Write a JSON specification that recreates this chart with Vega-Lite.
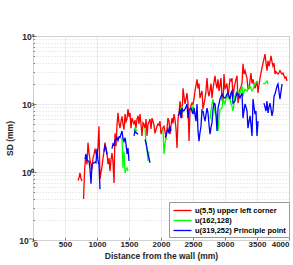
{
  "$schema": "https://vega.github.io/schema/vega-lite/v6.json",
  "width": 256,
  "height": 204,
  "autosize": {"type": "none"},
  "padding": {"left": 33, "top": 36, "right": 4, "bottom": 25},
  "background": "white",
  "config": {
    "font": "Liberation Sans",
    "view": {"stroke": "#808080", "strokeWidth": 1},
    "axis": {
      "labelFont": "Liberation Sans",
      "labelFontWeight": "bold",
      "labelFontSize": 8,
      "labelColor": "#262626",
      "titleFont": "Liberation Sans",
      "titleFontWeight": "bold",
      "titleFontSize": 8.5,
      "titleColor": "#262626",
      "domain": false,
      "tickColor": "#808080",
      "tickSize": -2.5,
      "gridColor": "#e6e6e6",
      "gridWidth": 0.8
    }
  },
  "data": {
    "values": [
      {"d":703,"sd":0.75,"s":"a"},{"d":719,"sd":0.82,"s":"a"},{"d":734,"sd":0.97,"s":"a"},{"d":750,"sd":0.8,"s":"a"},{"d":766,"sd":0.74,"s":"a"},{"d":778,"sd":null,"s":"a"},
      {"d":790,"sd":0.4,"s":"a"},{"d":805,"sd":1.0,"s":"a"},{"d":820,"sd":1.6,"s":"a"},{"d":844,"sd":1.3,"s":"a"},{"d":859,"sd":2.7,"s":"a"},{"d":875,"sd":1.9,"s":"a"},{"d":891,"sd":1.5,"s":"a"},{"d":906,"sd":1.3,"s":"a"},{"d":922,"sd":1.1,"s":"a"},{"d":938,"sd":1.6,"s":"a"},{"d":953,"sd":1.8,"s":"a"},{"d":969,"sd":2.2,"s":"a"},{"d":984,"sd":1.9,"s":"a"},{"d":1000,"sd":1.6,"s":"a"},{"d":1016,"sd":2.4,"s":"a"},{"d":1031,"sd":4.7,"s":"a"},{"d":1047,"sd":0.79,"s":"a"},{"d":1063,"sd":1.0,"s":"a"},{"d":1078,"sd":1.2,"s":"a"},{"d":1094,"sd":1.6,"s":"a"},{"d":1109,"sd":2.0,"s":"a"},{"d":1125,"sd":2.7,"s":"a"},{"d":1141,"sd":2.2,"s":"a"},{"d":1156,"sd":1.9,"s":"a"},{"d":1172,"sd":1.3,"s":"a"},{"d":1188,"sd":1.6,"s":"a"},{"d":1203,"sd":1.03,"s":"a"},{"d":1219,"sd":1.5,"s":"a"},{"d":1234,"sd":1.9,"s":"a"},{"d":1250,"sd":1.4,"s":"a"},{"d":1266,"sd":0.69,"s":"a"},{"d":1281,"sd":3.7,"s":"a"},{"d":1297,"sd":2.4,"s":"a"},{"d":1313,"sd":5.0,"s":"a"},{"d":1328,"sd":7.4,"s":"a"},{"d":1344,"sd":5.2,"s":"a"},{"d":1359,"sd":4.4,"s":"a"},{"d":1375,"sd":5.5,"s":"a"},{"d":1391,"sd":6.6,"s":"a"},{"d":1406,"sd":5.0,"s":"a"},{"d":1422,"sd":4.2,"s":"a"},{"d":1438,"sd":7.1,"s":"a"},{"d":1453,"sd":5.5,"s":"a"},{"d":1469,"sd":6.0,"s":"a"},{"d":1484,"sd":8.4,"s":"a"},{"d":1500,"sd":6.5,"s":"a"},{"d":1516,"sd":7.4,"s":"a"},{"d":1531,"sd":4.4,"s":"a"},{"d":1547,"sd":6.2,"s":"a"},{"d":1563,"sd":5.5,"s":"a"},{"d":1578,"sd":5.1,"s":"a"},{"d":1594,"sd":5.8,"s":"a"},{"d":1609,"sd":4.4,"s":"a"},{"d":1625,"sd":6.0,"s":"a"},{"d":1641,"sd":6.7,"s":"a"},{"d":1656,"sd":5.1,"s":"a"},{"d":1672,"sd":7.1,"s":"a"},{"d":1688,"sd":5.0,"s":"a"},{"d":1703,"sd":3.4,"s":"a"},{"d":1719,"sd":5.3,"s":"a"},{"d":1734,"sd":5.0,"s":"a"},{"d":1750,"sd":4.4,"s":"a"},{"d":1766,"sd":6.0,"s":"a"},{"d":1781,"sd":3.4,"s":"a"},{"d":1797,"sd":5.1,"s":"a"},{"d":1813,"sd":5.5,"s":"a"},{"d":1828,"sd":6.0,"s":"a"},{"d":1844,"sd":4.3,"s":"a"},{"d":1859,"sd":6.2,"s":"a"},{"d":1875,"sd":5.6,"s":"a"},{"d":1891,"sd":4.8,"s":"a"},{"d":1906,"sd":3.7,"s":"a"},{"d":1922,"sd":4.2,"s":"a"},{"d":1938,"sd":4.7,"s":"a"},{"d":1953,"sd":5.1,"s":"a"},{"d":1969,"sd":4.9,"s":"a"},{"d":1984,"sd":5.6,"s":"a"},{"d":2000,"sd":3.6,"s":"a"},{"d":2016,"sd":4.0,"s":"a"},{"d":2031,"sd":4.5,"s":"a"},{"d":2047,"sd":4.7,"s":"a"},{"d":2063,"sd":3.9,"s":"a"},{"d":2078,"sd":3.2,"s":"a"},{"d":2094,"sd":4.4,"s":"a"},{"d":2109,"sd":6.2,"s":"a"},{"d":2125,"sd":5.6,"s":"a"},{"d":2141,"sd":3.6,"s":"a"},{"d":2156,"sd":4.8,"s":"a"},{"d":2172,"sd":6.2,"s":"a"},{"d":2188,"sd":5.2,"s":"a"},{"d":2203,"sd":7.1,"s":"a"},{"d":2219,"sd":5.8,"s":"a"},{"d":2234,"sd":4.4,"s":"a"},{"d":2250,"sd":2.25,"s":"a"},{"d":2266,"sd":6.0,"s":"a"},{"d":2281,"sd":7.1,"s":"a"},{"d":2297,"sd":11,"s":"a"},{"d":2313,"sd":8.4,"s":"a"},{"d":2328,"sd":6.2,"s":"a"},{"d":2344,"sd":17,"s":"a"},{"d":2359,"sd":13,"s":"a"},{"d":2375,"sd":10,"s":"a"},{"d":2391,"sd":12,"s":"a"},{"d":2406,"sd":14.5,"s":"a"},{"d":2422,"sd":10.3,"s":"a"},{"d":2438,"sd":2.85,"s":"a"},{"d":2453,"sd":7.9,"s":"a"},{"d":2469,"sd":9.5,"s":"a"},{"d":2484,"sd":10.3,"s":"a"},{"d":2500,"sd":10,"s":"a"},{"d":2516,"sd":12,"s":"a"},{"d":2531,"sd":15.5,"s":"a"},{"d":2547,"sd":19,"s":"a"},{"d":2563,"sd":23,"s":"a"},{"d":2578,"sd":17,"s":"a"},{"d":2594,"sd":20,"s":"a"},{"d":2609,"sd":12.2,"s":"a"},{"d":2625,"sd":14,"s":"a"},{"d":2641,"sd":15.5,"s":"a"},{"d":2656,"sd":8.4,"s":"a"},{"d":2672,"sd":10,"s":"a"},{"d":2688,"sd":12.2,"s":"a"},{"d":2703,"sd":15.5,"s":"a"},{"d":2719,"sd":24,"s":"a"},{"d":2734,"sd":15.5,"s":"a"},{"d":2750,"sd":13,"s":"a"},{"d":2766,"sd":16,"s":"a"},{"d":2781,"sd":20,"s":"a"},{"d":2797,"sd":12.2,"s":"a"},{"d":2813,"sd":17,"s":"a"},{"d":2828,"sd":21,"s":"a"},{"d":2844,"sd":26,"s":"a"},{"d":2859,"sd":20,"s":"a"},{"d":2875,"sd":17,"s":"a"},{"d":2891,"sd":23,"s":"a"},{"d":2906,"sd":15.5,"s":"a"},{"d":2922,"sd":19,"s":"a"},{"d":2938,"sd":24,"s":"a"},{"d":2953,"sd":11.8,"s":"a"},{"d":2969,"sd":10.3,"s":"a"},{"d":2984,"sd":27.6,"s":"a"},{"d":3000,"sd":17,"s":"a"},{"d":3016,"sd":18,"s":"a"},{"d":3031,"sd":20,"s":"a"},{"d":3047,"sd":12.2,"s":"a"},{"d":3063,"sd":17,"s":"a"},{"d":3078,"sd":23,"s":"a"},{"d":3094,"sd":22,"s":"a"},{"d":3109,"sd":24,"s":"a"},{"d":3125,"sd":12.2,"s":"a"},{"d":3141,"sd":17,"s":"a"},{"d":3156,"sd":20,"s":"a"},{"d":3172,"sd":23,"s":"a"},{"d":3188,"sd":26,"s":"a"},{"d":3203,"sd":10.3,"s":"a"},{"d":3219,"sd":13,"s":"a"},{"d":3234,"sd":16.5,"s":"a"},{"d":3250,"sd":18,"s":"a"},{"d":3266,"sd":20,"s":"a"},{"d":3281,"sd":39,"s":"a"},{"d":3297,"sd":27.6,"s":"a"},{"d":3313,"sd":31,"s":"a"},{"d":3328,"sd":27,"s":"a"},{"d":3344,"sd":24,"s":"a"},{"d":3359,"sd":16.5,"s":"a"},{"d":3375,"sd":17,"s":"a"},{"d":3391,"sd":22,"s":"a"},{"d":3406,"sd":28.5,"s":"a"},{"d":3422,"sd":20,"s":"a"},{"d":3438,"sd":23,"s":"a"},{"d":3453,"sd":20,"s":"a"},{"d":3469,"sd":17,"s":"a"},{"d":3484,"sd":19,"s":"a"},{"d":3500,"sd":21.8,"s":"a"},{"d":3516,"sd":14.5,"s":"a"},{"d":3531,"sd":19,"s":"a"},{"d":3547,"sd":24,"s":"a"},{"d":3563,"sd":29,"s":"a"},{"d":3578,"sd":34,"s":"a"},{"d":3594,"sd":40,"s":"a"},{"d":3609,"sd":46,"s":"a"},{"d":3625,"sd":54,"s":"a"},{"d":3641,"sd":40,"s":"a"},{"d":3656,"sd":31,"s":"a"},{"d":3672,"sd":43,"s":"a"},{"d":3688,"sd":36,"s":"a"},{"d":3703,"sd":42,"s":"a"},{"d":3719,"sd":51,"s":"a"},{"d":3734,"sd":42,"s":"a"},{"d":3750,"sd":36,"s":"a"},{"d":3766,"sd":40,"s":"a"},{"d":3781,"sd":27.6,"s":"a"},{"d":3797,"sd":30,"s":"a"},{"d":3813,"sd":28.5,"s":"a"},{"d":3828,"sd":27.6,"s":"a"},{"d":3844,"sd":29,"s":"a"},{"d":3859,"sd":31,"s":"a"},{"d":3875,"sd":29,"s":"a"},{"d":3891,"sd":27.6,"s":"a"},{"d":3906,"sd":28.5,"s":"a"},{"d":3922,"sd":26,"s":"a"},{"d":3938,"sd":24,"s":"a"},{"d":3953,"sd":25,"s":"a"},{"d":3969,"sd":21.8,"s":"a"},

      {"d":1391,"sd":3.2,"s":"b"},{"d":1406,"sd":1.15,"s":"b"},{"d":1422,"sd":2.0,"s":"b"},{"d":1438,"sd":0.97,"s":"b"},{"d":1453,"sd":1.1,"s":"b"},{"d":1469,"sd":1.15,"s":"b"},{"d":1484,"sd":1.03,"s":"b"},{"d":1540,"sd":null,"s":"b"},{"d":1578,"sd":4.0,"s":"b"},{"d":1594,"sd":4.4,"s":"b"},{"d":1609,"sd":4.2,"s":"b"},{"d":1625,"sd":4.0,"s":"b"},{"d":1700,"sd":null,"s":"b"},{"d":1750,"sd":4.4,"s":"b"},{"d":1766,"sd":2.6,"s":"b"},{"d":1781,"sd":2.2,"s":"b"},{"d":1797,"sd":1.45,"s":"b"},{"d":1813,"sd":2.0,"s":"b"},{"d":1900,"sd":null,"s":"b"},{"d":2031,"sd":4.3,"s":"b"},{"d":2047,"sd":1.84,"s":"b"},{"d":2063,"sd":2.67,"s":"b"},{"d":2078,"sd":3.2,"s":"b"},{"d":2094,"sd":3.0,"s":"b"},{"d":2200,"sd":null,"s":"b"},{"d":2297,"sd":8.4,"s":"b"},{"d":2313,"sd":8.4,"s":"b"},{"d":2328,"sd":9.3,"s":"b"},{"d":2344,"sd":7.4,"s":"b"},{"d":2420,"sd":null,"s":"b"},{"d":2484,"sd":7.4,"s":"b"},{"d":2500,"sd":9.3,"s":"b"},{"d":2516,"sd":8.5,"s":"b"},{"d":2531,"sd":7.1,"s":"b"},{"d":2600,"sd":null,"s":"b"},{"d":2766,"sd":6.0,"s":"b"},{"d":2781,"sd":8,"s":"b"},{"d":2797,"sd":10,"s":"b"},{"d":2813,"sd":11.8,"s":"b"},{"d":2828,"sd":9,"s":"b"},{"d":2844,"sd":7.4,"s":"b"},{"d":2859,"sd":7,"s":"b"},{"d":2875,"sd":6.7,"s":"b"},{"d":2891,"sd":4.0,"s":"b"},{"d":2906,"sd":6,"s":"b"},{"d":2922,"sd":8.4,"s":"b"},{"d":2938,"sd":8.5,"s":"b"},{"d":2953,"sd":8.7,"s":"b"},{"d":2969,"sd":11.8,"s":"b"},{"d":2984,"sd":11,"s":"b"},{"d":3000,"sd":10,"s":"b"},{"d":3016,"sd":12,"s":"b"},{"d":3031,"sd":14,"s":"b"},{"d":3047,"sd":12.5,"s":"b"},{"d":3063,"sd":12,"s":"b"},{"d":3078,"sd":11.8,"s":"b"},{"d":3094,"sd":10,"s":"b"},{"d":3109,"sd":9.3,"s":"b"},{"d":3125,"sd":7.9,"s":"b"},{"d":3141,"sd":10,"s":"b"},{"d":3156,"sd":13,"s":"b"},{"d":3172,"sd":14.5,"s":"b"},{"d":3188,"sd":15.5,"s":"b"},{"d":3203,"sd":15.5,"s":"b"},{"d":3219,"sd":15,"s":"b"},{"d":3234,"sd":14.5,"s":"b"},{"d":3250,"sd":16,"s":"b"},{"d":3266,"sd":18.4,"s":"b"},{"d":3281,"sd":13,"s":"b"},{"d":3297,"sd":15,"s":"b"},{"d":3313,"sd":16.5,"s":"b"},{"d":3328,"sd":16,"s":"b"},{"d":3344,"sd":15.5,"s":"b"},{"d":3359,"sd":17,"s":"b"},{"d":3375,"sd":18,"s":"b"},{"d":3391,"sd":18.4,"s":"b"},{"d":3406,"sd":17,"s":"b"},{"d":3422,"sd":15.5,"s":"b"},{"d":3438,"sd":16.5,"s":"b"},{"d":3453,"sd":18,"s":"b"},{"d":3469,"sd":19.7,"s":"b"},{"d":3484,"sd":20.5,"s":"b"},{"d":3500,"sd":21.8,"s":"b"},{"d":3550,"sd":null,"s":"b"},{"d":3594,"sd":20,"s":"b"},{"d":3609,"sd":20,"s":"b"},{"d":3625,"sd":20,"s":"b"},{"d":3641,"sd":21,"s":"b"},{"d":3656,"sd":21.8,"s":"b"},{"d":3672,"sd":19.7,"s":"b"},

      {"d":813,"sd":1.55,"s":"c"},{"d":828,"sd":1.84,"s":"c"},{"d":844,"sd":1.5,"s":"c"},{"d":859,"sd":1.45,"s":"c"},{"d":875,"sd":1.45,"s":"c"},{"d":891,"sd":1.1,"s":"c"},{"d":906,"sd":0.67,"s":"c"},{"d":922,"sd":1.3,"s":"c"},{"d":938,"sd":1.35,"s":"c"},{"d":953,"sd":1.36,"s":"c"},{"d":969,"sd":1.4,"s":"c"},{"d":984,"sd":1.36,"s":"c"},{"d":1000,"sd":2.2,"s":"c"},{"d":1016,"sd":1.45,"s":"c"},{"d":1031,"sd":1.3,"s":"c"},{"d":1047,"sd":0.56,"s":"c"},{"d":1080,"sd":null,"s":"c"},{"d":1109,"sd":2.0,"s":"c"},{"d":1125,"sd":2.4,"s":"c"},{"d":1141,"sd":2.2,"s":"c"},{"d":1156,"sd":1.8,"s":"c"},{"d":1190,"sd":null,"s":"c"},{"d":1234,"sd":2.2,"s":"c"},{"d":1250,"sd":2.6,"s":"c"},{"d":1266,"sd":2.5,"s":"c"},{"d":1281,"sd":2.9,"s":"c"},{"d":1297,"sd":3.0,"s":"c"},{"d":1313,"sd":3.2,"s":"c"},{"d":1328,"sd":2.9,"s":"c"},{"d":1344,"sd":3.3,"s":"c"},{"d":1359,"sd":3.2,"s":"c"},{"d":1375,"sd":3.6,"s":"c"},{"d":1391,"sd":4.0,"s":"c"},{"d":1406,"sd":3.1,"s":"c"},{"d":1422,"sd":2.8,"s":"c"},{"d":1438,"sd":3.2,"s":"c"},{"d":1453,"sd":2.6,"s":"c"},{"d":1469,"sd":1.84,"s":"c"},{"d":1484,"sd":2.25,"s":"c"},{"d":1500,"sd":1.45,"s":"c"},{"d":1540,"sd":null,"s":"c"},{"d":1578,"sd":3.4,"s":"c"},{"d":1594,"sd":4.0,"s":"c"},{"d":1609,"sd":3.8,"s":"c"},{"d":1625,"sd":3.7,"s":"c"},{"d":1641,"sd":3.6,"s":"c"},{"d":1700,"sd":null,"s":"c"},{"d":1750,"sd":3.0,"s":"c"},{"d":1766,"sd":2.67,"s":"c"},{"d":1781,"sd":2.2,"s":"c"},{"d":1797,"sd":1.84,"s":"c"},{"d":1813,"sd":1.6,"s":"c"},{"d":1828,"sd":1.36,"s":"c"},{"d":1950,"sd":null,"s":"c"},{"d":2063,"sd":3.2,"s":"c"},{"d":2078,"sd":3.4,"s":"c"},{"d":2094,"sd":3.9,"s":"c"},{"d":2109,"sd":4.3,"s":"c"},{"d":2125,"sd":3.7,"s":"c"},{"d":2141,"sd":4.7,"s":"c"},{"d":2156,"sd":4.0,"s":"c"},{"d":2200,"sd":null,"s":"c"},{"d":2266,"sd":6.7,"s":"c"},{"d":2281,"sd":7.1,"s":"c"},{"d":2297,"sd":8.4,"s":"c"},{"d":2313,"sd":6.2,"s":"c"},{"d":2328,"sd":8.7,"s":"c"},{"d":2344,"sd":7.9,"s":"c"},{"d":2359,"sd":8.0,"s":"c"},{"d":2375,"sd":8.4,"s":"c"},{"d":2391,"sd":9.0,"s":"c"},{"d":2406,"sd":10,"s":"c"},{"d":2422,"sd":6.2,"s":"c"},{"d":2438,"sd":8.4,"s":"c"},{"d":2453,"sd":8.5,"s":"c"},{"d":2469,"sd":8.7,"s":"c"},{"d":2484,"sd":7.9,"s":"c"},{"d":2500,"sd":7.1,"s":"c"},{"d":2516,"sd":8.7,"s":"c"},{"d":2531,"sd":7.0,"s":"c"},{"d":2547,"sd":5.6,"s":"c"},{"d":2563,"sd":10,"s":"c"},{"d":2578,"sd":4.0,"s":"c"},{"d":2594,"sd":2.85,"s":"c"},{"d":2609,"sd":3.8,"s":"c"},{"d":2625,"sd":4.7,"s":"c"},{"d":2641,"sd":8.4,"s":"c"},{"d":2648,"sd":null,"s":"c"},{"d":2656,"sd":7.9,"s":"c"},{"d":2672,"sd":6.5,"s":"c"},{"d":2688,"sd":5.6,"s":"c"},{"d":2703,"sd":7.0,"s":"c"},{"d":2719,"sd":8.7,"s":"c"},{"d":2734,"sd":7.4,"s":"c"},{"d":2750,"sd":5.0,"s":"c"},{"d":2766,"sd":3.6,"s":"c"},{"d":2781,"sd":4.5,"s":"c"},{"d":2797,"sd":5.3,"s":"c"},{"d":2813,"sd":8.4,"s":"c"},{"d":2828,"sd":10.3,"s":"c"},{"d":2844,"sd":10,"s":"c"},{"d":2859,"sd":7.1,"s":"c"},{"d":2875,"sd":4.0,"s":"c"},{"d":2891,"sd":8.7,"s":"c"},{"d":2906,"sd":10,"s":"c"},{"d":2922,"sd":11.8,"s":"c"},{"d":2938,"sd":13,"s":"c"},{"d":2953,"sd":14,"s":"c"},{"d":2969,"sd":13,"s":"c"},{"d":2984,"sd":12.5,"s":"c"},{"d":3000,"sd":12.2,"s":"c"},{"d":3016,"sd":13,"s":"c"},{"d":3031,"sd":14,"s":"c"},{"d":3047,"sd":14.5,"s":"c"},{"d":3063,"sd":13,"s":"c"},{"d":3078,"sd":11.8,"s":"c"},{"d":3094,"sd":14.5,"s":"c"},{"d":3109,"sd":15.5,"s":"c"},{"d":3125,"sd":10.3,"s":"c"},{"d":3141,"sd":10.7,"s":"c"},{"d":3156,"sd":11,"s":"c"},{"d":3172,"sd":13,"s":"c"},{"d":3188,"sd":14.5,"s":"c"},{"d":3203,"sd":14,"s":"c"},{"d":3219,"sd":13,"s":"c"},{"d":3234,"sd":12.2,"s":"c"},{"d":3250,"sd":13.5,"s":"c"},{"d":3266,"sd":14.5,"s":"c"},{"d":3281,"sd":6.2,"s":"c"},{"d":3297,"sd":8,"s":"c"},{"d":3313,"sd":10,"s":"c"},{"d":3328,"sd":9,"s":"c"},{"d":3344,"sd":7.9,"s":"c"},{"d":3359,"sd":4.4,"s":"c"},{"d":3375,"sd":5.5,"s":"c"},{"d":3391,"sd":6.7,"s":"c"},{"d":3406,"sd":5,"s":"c"},{"d":3422,"sd":3.4,"s":"c"},{"d":3438,"sd":11.8,"s":"c"},{"d":3453,"sd":9,"s":"c"},{"d":3469,"sd":7.1,"s":"c"},{"d":3484,"sd":7.9,"s":"c"},{"d":3500,"sd":3.4,"s":"c"},{"d":3516,"sd":5.6,"s":"c"},{"d":3560,"sd":null,"s":"c"},{"d":3609,"sd":10.3,"s":"c"},{"d":3625,"sd":9,"s":"c"},{"d":3641,"sd":7.9,"s":"c"},{"d":3656,"sd":11,"s":"c"},{"d":3672,"sd":7.4,"s":"c"},{"d":3688,"sd":9,"s":"c"},{"d":3703,"sd":10.3,"s":"c"},{"d":3719,"sd":8.5,"s":"c"},{"d":3734,"sd":6.7,"s":"c"},{"d":3750,"sd":7.9,"s":"c"},{"d":3766,"sd":13,"s":"c"},{"d":3781,"sd":14,"s":"c"},{"d":3797,"sd":16,"s":"c"},{"d":3813,"sd":18.4,"s":"c"},{"d":3828,"sd":19.7,"s":"c"},{"d":3844,"sd":15,"s":"c"},{"d":3859,"sd":11.8,"s":"c"},{"d":3891,"sd":19.7,"s":"c"}
    ]
  },
  "mark": {"type": "line", "strokeWidth": 1.3, "invalid": "break-paths-filter-domains", "clip": true},
  "encoding": {
    "x": {
      "field": "d",
      "type": "quantitative",
      "scale": {"domain": [0, 4000], "nice": false},
      "axis": {
        "values": [0, 500, 1000, 1500, 2000, 2500, 3000, 3500, 4000],
        "format": "d",
        "title": "Distance from the wall (mm)",
        "labelPadding": 3,
        "titlePadding": 3,
        "gridDash": []
      }
    },
    "y": {
      "field": "sd",
      "type": "quantitative",
      "scale": {"type": "log", "domain": [0.1, 100], "nice": false},
      "axis": {
        "values": [0.1,0.2,0.3,0.4,0.5,0.6,0.7,0.8,0.9,1,2,3,4,5,6,7,8,9,10,20,30,40,50,60,70,80,90,100],
        "labelExpr": "datum.value == 100 ? '10²' : datum.value == 10 ? '10¹' : datum.value == 1 ? '10⁰' : datum.value == 0.1 ? '10⁻¹' : ''",
        "labelFontSize": 8.5,
        "title": "SD (mm)",
        "titlePadding": 4,
        "labelPadding": 2,
        "gridDash": {"condition": {"test": "abs(log(datum.value)/LN10 - round(log(datum.value)/LN10)) < 0.001", "value": []}, "value": [1, 2]},
        "gridColor": {"condition": {"test": "abs(log(datum.value)/LN10 - round(log(datum.value)/LN10)) < 0.001", "value": "#e6e6e6"}, "value": "#d0d0d0"},
        "tickSize": {"condition": {"test": "abs(log(datum.value)/LN10 - round(log(datum.value)/LN10)) < 0.001", "value": -3}, "value": -1.5}
      }
    },
    "color": {
      "field": "s",
      "type": "nominal",
      "scale": {"domain": ["a", "b", "c"], "range": ["#ff0000", "#00ff00", "#0000ff"]},
      "legend": {
        "title": null,
        "orient": "none",
        "legendX": 136,
        "legendY": 166,
        "symbolType": "M-2,0L2,0",
        "symbolSize": 81,
        "symbolStrokeWidth": 1.3,
        "symbolOffset": 5,
        "labelExpr": "datum.value == 'a' ? 'u(5,5) upper left corner' : datum.value == 'b' ? 'u(162,128)' : 'u(319,252) Principle point'",
        "labelFont": "Liberation Sans",
        "labelFontWeight": "bold",
        "labelFontSize": 7.5,
        "labelColor": "#000000",
        "labelOffset": 7,
        "rowPadding": 1,
        "padding": 3,
        "fillColor": "white",
        "strokeColor": "#999999"
      }
    }
  }
}
